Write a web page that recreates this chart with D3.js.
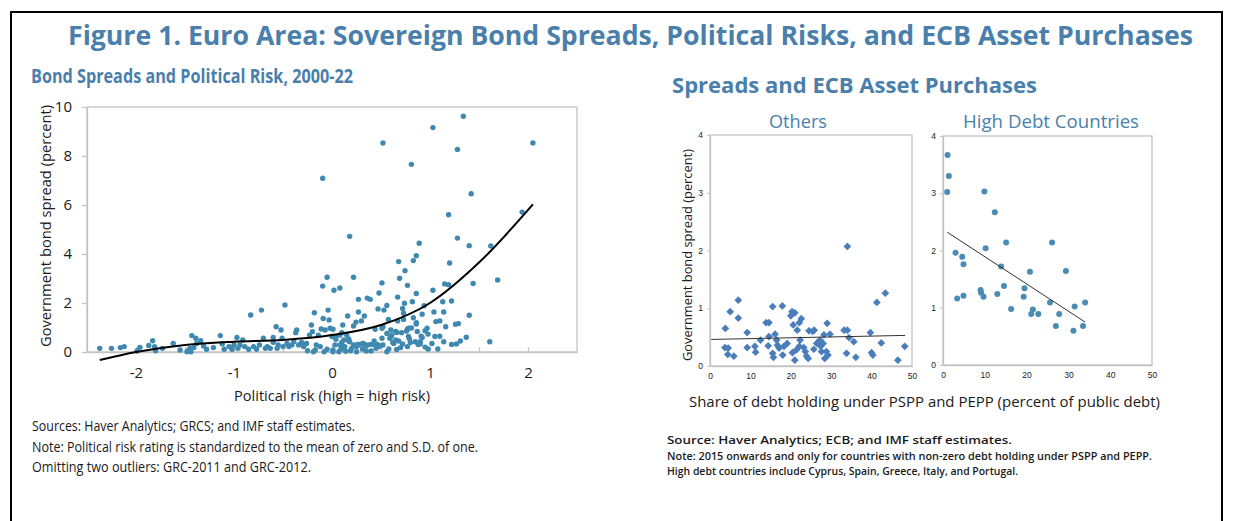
<!DOCTYPE html>
<html>
<head>
<meta charset="utf-8">
<script src="https://cdn.jsdelivr.net/npm/d3@7"></script>
<style>
body { margin: 0; background: #fff; }
svg text { font-family: "Open Sans", "Noto Sans", sans-serif; }
</style>
</head>
<body>
<div id="chart"></div>
<script>
// ---- left panel: bond spreads vs political risk (x = risk, y = spread)
var riskX = [1.34,1.03,0.52,1.28,2.05,0.81,-0.095,1.42,1.19,1.94,0.18,0.89,1.28,1.40,1.62,0.86,0.83,0.68,1.20,0.745,
  0.22,-0.05,0.69,1.69,0.51,1.15,1.19,1.44,0.77,-0.095,0.08,0.02,1.03,0.48,0.86,0.67,0.36,0.39,0.27,1.22,
  0.82,1.13,0.74,-0.48,0.56,0.94,0.47,-0.72,-0.04,0.72,0.53,0.27,1.04,1.14,-0.18,0.73,0.92,-0.83,1.40,0.16,
  0.33,-0.09,0.83,0.575,0.73,-0.03,0.30,0.67,1.10,0.245,1.06,0.86,0.86,1.29,1.26,-0.21,0.11,0.22,1.16,-0.57,
  0.52,0.51,0.78,0.97,-0.02,0.81,-0.11,0.01,0.44,0.77,-0.52,-0.36,-0.07,0.60,0.95,0.76,0.65,0.87,-0.20,0.66,
  -0.37,0.10,0.71,0.56,0.98,-0.23,-0.14,0.08,0.15,0.61,-1.43,-1.14,0.91,0.00,0.04,0.60,0.78,1.05,1.10,1.37,
  0.92,-0.97,-0.60,-1.39,-0.70,-0.51,0.51,0.59,0.79,0.17,0.04,-1.83,-1.34,-0.91,0.12,0.17,0.65,0.43,0.68,1.61,
  -0.39,0.18,0.85,0.90,1.14,-1.62,-1.38,-0.46,-0.26,0.32,0.63,1.02,-0.31,0.10,0.62,0.80,-1.12,1.27,1.22,0.30,
  0.72,0.90,-1.00,-0.94,-0.74,-0.55,-0.41,-0.34,-0.16,0.03,0.08,0.22,0.27,0.35,0.52,0.88,0.46,0.39,0.26,0.42,
  -0.28,-1.87,0.49,0.35,-1.31,-2.12,-1.81,-1.05,-0.89,-0.80,-0.66,-0.50,-0.44,-0.29,-0.12,0.11,0.13,0.25,0.48,0.77,
  -2.16,-1.41,-1.21,-1.96,-2.37,-2.25,-1.73,-1.45,-0.96,-0.68,-0.63,-0.56,0.12,0.20,-1.28,-1.10,-1.02,-0.85,-0.77,-0.05,
  0.09,-1.80,-1.55,-1.46,-0.17,0.01,0.35,0.40,-1.99,-1.48,-1.44,-0.19,-0.08,0.01,0.25,0.56,0.07,0.14,0.58,0.70,
  1.31,0.98,0.19,0.31,0.66,-0.60,-0.25,0.95,1.08,0.45];
var riskY = [9.62,9.16,8.53,8.27,8.53,7.66,7.09,6.46,5.60,5.71,4.72,4.44,4.65,4.34,4.33,3.93,3.73,3.69,3.63,3.32,
  3.05,3.05,3.01,2.94,2.82,2.78,2.75,2.80,2.72,2.69,2.61,2.52,2.52,2.41,2.39,2.24,2.20,2.15,2.15,2.08,
  2.05,2.05,1.99,1.92,1.90,1.89,1.76,1.71,1.71,1.78,1.71,1.63,1.63,1.63,1.60,1.58,1.54,1.51,1.50,1.47,
  1.47,1.37,1.40,1.33,1.33,1.31,1.27,1.27,1.27,1.22,1.24,1.14,1.20,1.16,1.13,1.10,1.10,1.06,1.03,1.03,
  1.03,0.97,0.97,0.97,0.97,0.98,0.94,0.93,0.93,0.93,0.90,0.90,0.90,0.90,0.87,0.86,0.84,0.84,0.83,0.80,
  0.79,0.79,0.79,0.76,0.73,0.69,0.69,0.69,0.69,0.69,0.67,0.67,0.65,0.63,0.63,0.63,0.63,0.63,0.64,0.60,
  0.59,0.59,0.59,0.56,0.56,0.56,0.56,0.56,0.54,0.53,0.52,0.46,0.46,0.49,0.49,0.46,0.49,0.45,0.45,0.42,
  0.42,0.42,0.42,0.42,0.42,0.35,0.35,0.35,0.35,0.35,0.35,0.35,0.39,0.39,0.39,0.39,0.33,0.33,0.31,0.33,
  0.33,0.33,0.29,0.29,0.29,0.29,0.29,0.29,0.29,0.29,0.29,0.29,0.29,0.29,0.29,0.31,0.31,0.31,0.31,0.31,
  0.31,0.27,0.26,0.24,0.24,0.22,0.22,0.22,0.22,0.22,0.22,0.22,0.22,0.22,0.22,0.22,0.22,0.22,0.22,0.22,
  0.18,0.18,0.18,0.19,0.15,0.15,0.15,0.15,0.15,0.15,0.15,0.15,0.15,0.15,0.11,0.11,0.11,0.11,0.11,0.11,
  0.11,0.05,0.08,0.08,0.08,0.08,0.04,0.04,0.04,0.01,0.01,0.01,0.01,0.01,0.01,0.01,0.01,0.03,0.12,0.18,
  0.45,0.12,0.05,0.12,0.10,0.40,0.05,0.20,0.12,0.15];
// fitted curve
var fitX = [-2.37,-2.0,-1.5,-1.0,-0.5,0.0,0.5,1.0,1.5,2.05];
var fitY = [-0.33,0.0,0.29,0.42,0.49,0.69,1.10,2.0,3.65,6.03];
var leftXTicks = [-2,-1.5,-1,-0.5,0,0.5,1,1.5,2];
var leftXLabels = [-2,-1,0,1,2];
var leftYTicks = [0,2,4,6,8,10];

// ---- right panels: spreads vs share of debt held under PSPP/PEPP
var othersX = [34.0,43.4,41.3,7.0,7.0,5.0,3.8,3.7,4.5,4.4,5.9,9.2,9.2,11.1,11.3,12.5,13.9,14.6,14.4,14.6,
  15.5,15.5,15.7,16.1,16.5,16.7,17.1,17.9,18.0,18.3,19.1,20.0,20.3,21.0,20.6,20.4,21.0,21.4,21.6,22.1,
  22.6,22.3,22.1,23.2,23.6,23.9,24.3,24.5,25.4,25.8,25.7,26.4,27.2,27.4,27.6,28.0,28.2,28.4,28.8,29.0,
  29.2,29.7,33.2,34.0,33.8,34.4,35.6,36.1,39.7,40.0,40.3,42.4,46.5,48.2];
var othersY = [2.07,1.26,1.10,1.14,0.83,0.94,0.65,0.32,0.31,0.20,0.17,0.58,0.32,0.34,0.24,0.45,0.75,0.75,0.35,0.51,
  1.03,0.22,0.15,0.55,0.45,0.36,0.31,1.04,0.19,0.34,0.39,0.87,0.94,0.92,0.71,0.23,0.10,0.28,0.62,0.75,
  0.82,0.45,0.34,0.32,0.25,0.17,0.13,0.61,0.60,0.62,0.29,0.39,0.45,0.34,0.25,0.39,0.54,0.13,0.25,0.74,
  0.19,0.55,0.62,0.62,0.22,0.49,0.42,0.15,0.58,0.23,0.19,0.40,0.10,0.34];
var othersTrendX = [0.3, 48.3];
var othersTrendY = [0.46, 0.53];

var highX = [1.1,1.4,1.0,9.9,12.4,10.2,15.1,26.1,3.0,4.6,4.9,13.9,20.8,29.4,3.4,4.9,9.0,9.1,9.7,13.0,
  14.6,16.3,19.5,19.3,21.5,21.1,22.8,25.6,27.8,27.0,31.5,34.0,31.2,33.5];
var highY = [3.67,3.30,3.02,3.03,2.67,2.04,2.14,2.14,1.96,1.89,1.76,1.72,1.63,1.64,1.16,1.21,1.31,1.26,1.19,1.24,
  1.38,0.98,1.34,1.19,0.97,0.89,0.89,1.09,0.89,0.68,1.02,1.09,0.60,0.68];
var highTrendX = [1.0, 34.0];
var highTrendY = [2.32, 0.75];

var rightXTicks = [0,10,20,30,40,50];
var rightYTicks = [0,1,2,3,4];

var blue = "#4a7fab";
var dotBlue = "#3f88b0";

var svg = d3.select("#chart").append("svg")
  .attr("width", 1234)
  .attr("height", 521);

// squeeze / stretch text to the width it has in the picture
function fit(sel, w) {
  sel.each(function() {
    var len = this.getComputedTextLength();
    if (Math.abs(len - w) > 1) {
      d3.select(this).attr("textLength", w).attr("lengthAdjust", "spacingAndGlyphs");
    }
  });
  return sel;
}

function addText(x, y, str, size, opts) {
  opts = opts || {};
  var t = svg.append("text")
    .attr("x", x).attr("y", y)
    .attr("font-size", size)
    .attr("fill", opts.fill || "#1a1a1a")
    .attr("font-weight", opts.weight || "normal")
    .attr("text-anchor", opts.anchor || "start")
    .text(str);
  if (opts.family) t.style("font-family", opts.family);
  if (opts.rotate) t.attr("transform", "rotate(-90," + x + "," + y + ")");
  if (opts.width) fit(t, opts.width);
  return t;
}

// outer frame
svg.append("rect")
  .attr("x", 11).attr("y", 12)
  .attr("width", 1211).attr("height", 540)
  .attr("fill", "none").attr("stroke", "#000").attr("stroke-width", 2);

addText(68, 45, "Figure 1. Euro Area: Sovereign Bond Spreads, Political Risks, and ECB Asset Purchases", 26,
  {fill: blue, weight: "bold", width: 1125});
addText(31, 83, "Bond Spreads and Political Risk, 2000-22", 19, {fill: blue, weight: "bold", width: 322});
addText(672, 93, "Spreads and ECB Asset Purchases", 21, {fill: blue, weight: "bold", width: 365});
addText(798, 128, "Others", 19, {fill: blue, anchor: "middle", width: 58});
addText(1051, 128, "High Debt Countries", 19, {fill: blue, anchor: "middle", width: 176});

// ================= left chart =================
var xL = d3.scaleLinear().domain([-2.5, 2.5]).range([87, 577]);
var yL = d3.scaleLinear().domain([0, 10]).range([352, 107]);

var gL = svg.append("g");

gL.append("rect")
  .attr("x", xL(-2.5)).attr("y", yL(10))
  .attr("width", xL(2.5) - xL(-2.5)).attr("height", yL(0) - yL(10))
  .attr("fill", "none").attr("stroke", "#c4c4c4").attr("stroke-width", 1.3);

var axXL = gL.append("g")
  .attr("transform", "translate(0," + yL(0) + ")")
  .call(d3.axisBottom(xL).tickValues(leftXTicks).tickSize(-5).tickSizeOuter(0).tickPadding(15)
    .tickFormat(function(d) { return leftXLabels.indexOf(d) >= 0 ? String(d) : ""; }));
var axYL = gL.append("g")
  .attr("transform", "translate(" + xL(-2.5) + ",0)")
  .call(d3.axisLeft(yL).tickValues(leftYTicks).tickSize(5).tickSizeOuter(0).tickPadding(10));

[axXL, axYL].forEach(function(ax) {
  ax.select(".domain").attr("stroke", "#c4c4c4").attr("stroke-width", 1.3);
  ax.selectAll(".tick line").attr("stroke", "#c4c4c4").attr("stroke-width", 1.3);
  ax.selectAll(".tick text").attr("font-size", 15).attr("fill", "#1a1a1a")
    .style("font-family", "'Open Sans', sans-serif");
});

gL.append("g").selectAll("circle")
  .data(riskX.map(function(x, i) { return [x, riskY[i]]; }))
  .enter().append("circle")
  .attr("cx", function(d) { return xL(d[0]); })
  .attr("cy", function(d) { return yL(d[1]); })
  .attr("r", 2.7)
  .attr("fill", dotBlue);

var fitLine = d3.line()
  .x(function(d) { return xL(d[0]); })
  .y(function(d) { return yL(d[1]); })
  .curve(d3.curveMonotoneX);
gL.append("path")
  .datum(fitX.map(function(x, i) { return [x, fitY[i]]; }))
  .attr("d", fitLine)
  .attr("fill", "none").attr("stroke", "#000").attr("stroke-width", 2);

addText(51, 226, "Government bond spread (percent)", 15, {anchor: "middle", rotate: true, width: 242});
addText(332, 401, "Political risk (high = high risk)", 15, {anchor: "middle", width: 196});

// notes, left
addText(32, 431, "Sources: Haver Analytics; GRCS; and IMF staff estimates.", 14, {width: 323});
addText(32, 452, "Note: Political risk rating is standardized to the mean of zero and S.D. of one.", 14, {width: 446});
addText(32, 472, "Omitting two outliers: GRC-2011 and GRC-2012.", 14, {width: 279});

// ================= right charts =================
function smallPanel(x0, x1, yTop, yBot, xs, ys, tx, ty, marker) {
  var x = d3.scaleLinear().domain([0, 50]).range([x0, x1]);
  var y = d3.scaleLinear().domain([0, 4]).range([yBot, yTop]);
  var g = svg.append("g");

  g.append("rect")
    .attr("x", x(0)).attr("y", y(4))
    .attr("width", x(50) - x(0)).attr("height", y(0) - y(4))
    .attr("fill", "none").attr("stroke", "#c4c4c4").attr("stroke-width", 1.3);

  var ax = g.append("g")
    .attr("transform", "translate(0," + y(0) + ")")
    .call(d3.axisBottom(x).tickValues(rightXTicks).tickSize(0).tickSizeOuter(0).tickPadding(7)
      .tickFormat(d3.format("d")));
  var ay = g.append("g")
    .attr("transform", "translate(" + x(0) + ",0)")
    .call(d3.axisLeft(y).tickValues(rightYTicks).tickSize(3).tickSizeOuter(0).tickPadding(4)
      .tickFormat(d3.format("d")));
  [ax, ay].forEach(function(a) {
    a.select(".domain").attr("stroke", "#c4c4c4").attr("stroke-width", 1.3);
    a.selectAll(".tick line").attr("stroke", "#c4c4c4");
    a.selectAll(".tick text").attr("font-size", 8.5).attr("fill", "#222")
      .style("font-family", "'Liberation Sans', sans-serif");
  });

  var pts = xs.map(function(v, i) { return [v, ys[i]]; });
  if (marker == "diamond") {
    g.append("g").selectAll("path")
      .data(pts).enter().append("path")
      .attr("d", d3.symbol(d3.symbolSquare, 30))
      .attr("transform", function(d) { return "translate(" + x(d[0]) + "," + y(d[1]) + ") rotate(45)"; })
      .attr("fill", "#4a7ebb");
  } else {
    g.append("g").selectAll("circle")
      .data(pts).enter().append("circle")
      .attr("cx", function(d) { return x(d[0]); })
      .attr("cy", function(d) { return y(d[1]); })
      .attr("r", 3)
      .attr("fill", "#4a8cb6");
  }

  g.append("line")
    .attr("x1", x(tx[0])).attr("y1", y(ty[0]))
    .attr("x2", x(tx[1])).attr("y2", y(ty[1]))
    .attr("stroke", "#333").attr("stroke-width", 1);
}

smallPanel(710, 912, 135, 366, othersX, othersY, othersTrendX, othersTrendY, "diamond");
smallPanel(943, 1152, 136, 365, highX, highY, highTrendX, highTrendY, "circle");

addText(692, 255, "Government bond spread (percent)", 13, {anchor: "middle", rotate: true, width: 212});
addText(689, 407, "Share of debt holding under PSPP and PEPP (percent of public debt)", 15, {width: 471});

// notes, right
var rn = {weight: 600, family: "'Open Sans', sans-serif"};
addText(667, 444, "Source: Haver Analytics; ECB; and IMF staff estimates.", 11.5,
  Object.assign({width: 345}, rn));
addText(667, 459.5, "Note: 2015 onwards and only for countries with non-zero debt holding under PSPP and PEPP.", 11.5,
  Object.assign({width: 485}, rn));
addText(667, 475, "High debt countries include Cyprus, Spain, Greece, Italy, and Portugal.", 11.5,
  Object.assign({width: 351}, rn));
</script>
</body>
</html>
